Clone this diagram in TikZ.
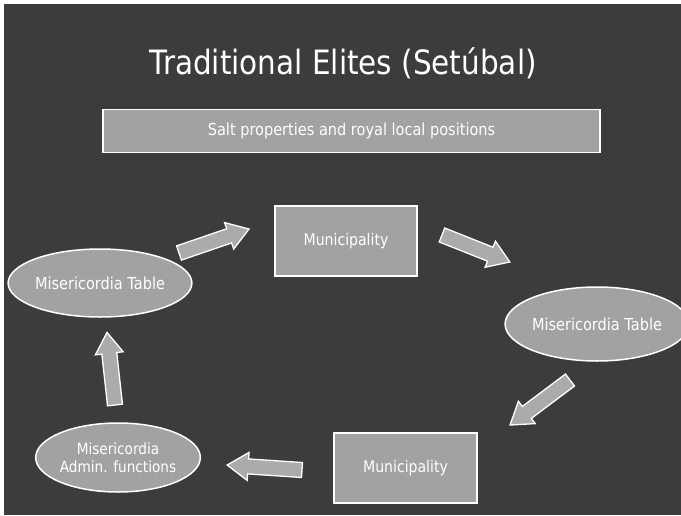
\documentclass[tikz,border=0pt]{standalone}
\usepackage{fontspec}
\setmainfont{DejaVu Sans}[FakeStretch=0.88]
\usetikzlibrary{shapes.geometric,calc}
\definecolor{bgdark}{HTML}{3C3C3C}
\definecolor{shapegray}{HTML}{A2A2A2}
\definecolor{arrowgray}{HTML}{ABABAB}
\newcommand{\myblockarrow}[3]{% tail coordinate, angle, length
  \begin{scope}[shift={(#1)}, rotate=#2]
    \filldraw[blk] (0,-7.5) -- ({#3-21},-7.5) -- ({#3-21},-14) -- (#3,0) -- ({#3-21},14) -- ({#3-21},7.5) -- (0,7.5) -- cycle;
  \end{scope}}
\begin{document}
\begin{tikzpicture}[x=1pt,y=-1pt,
  box/.style={draw=white, line width=1.5pt, fill=shapegray, text=white, inner sep=0pt, font=\fontsize{16}{18}\selectfont},
  ell/.style={ellipse, draw=white, line width=1.5pt, fill=shapegray, text=white, inner sep=0pt, font=\fontsize{16.5}{19}\selectfont, align=center},
  blk/.style={draw=white, line width=1.3pt, fill=arrowgray, line join=miter}]
\useasboundingbox (0,0) rectangle (681,515);
\fill[white] (0,0) rectangle (681,515);
\fill[bgdark] (4,4) rectangle (681,515);
% title
\node[text=white, font=\fontsize{33.5}{38}\selectfont] (title) at (343,63) {Traditional Elites (Setúbal)};
% banner
\node[box, minimum width=497pt, minimum height=43pt, font=\fontsize{16.5}{19}\selectfont] (banner) at (351.5,131) {Salt properties and royal local positions};
% nodes
\node[box, minimum width=142pt, minimum height=70pt] (mun1) at (346,241) {Municipality};
\node[box, minimum width=143pt, minimum height=70pt] (mun2) at (405.5,468) {Municipality};
\node[ell, minimum width=158pt, minimum height=68pt] (mt1) at (100,283) {Misericordia Table};
\node[ell, minimum width=158pt, minimum height=74pt] (mt2) at (597,324) {Misericordia Table};
\node[ell, minimum width=162pt, minimum height=69pt, font=\fontsize{15.5}{18.5}\selectfont] (adm) at (118,457.5) {Misericordia\\Admin. functions};
% block arrows (tail coordinates)
\coordinate (a1t) at (179,253);
\coordinate (a2t) at (442,235);
\coordinate (a3t) at (570,380);
\coordinate (a4t) at (302,470);
\coordinate (a5t) at (115,405);
\myblockarrow{a1t}{18.9}{74}
\myblockarrow{a2t}{-21.7}{73}
\myblockarrow{a3t}{-143.1}{75}
\myblockarrow{a4t}{176.2}{75}
\myblockarrow{a5t}{96.3}{73}
\end{tikzpicture}
\end{document}
